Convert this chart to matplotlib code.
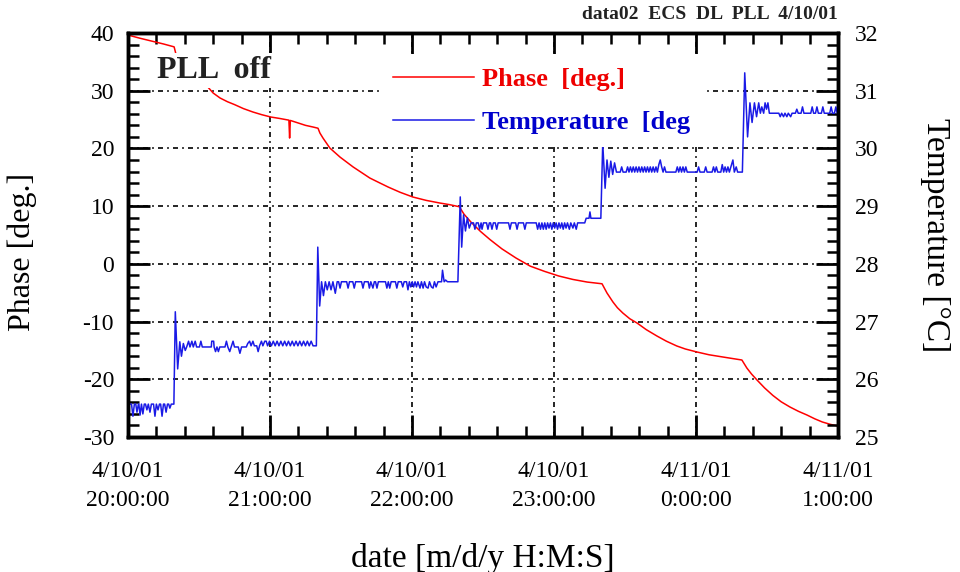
import matplotlib
matplotlib.use("Agg")
import matplotlib.pyplot as plt
from matplotlib.ticker import FixedLocator, MultipleLocator

plt.rcParams['font.family'] = ['Liberation Serif', 'DejaVu Serif']
plt.rcParams['axes.unicode_minus'] = False

# time axis in minutes after 4/10/01 20:00:00
hour_ticks = [0, 60, 120, 180, 240, 300]
hour_labels = ["4/10/01\n20:00:00", "4/10/01\n21:00:00", "4/10/01\n22:00:00",
               "4/10/01\n23:00:00", "4/11/01\n0:00:00", "4/11/01\n1:00:00"]

# phase [deg.] (left axis)
phase_t = [0, 5, 10, 15, 19.5, 20.3, 21.5, 25, 29, 33.4, 36, 38.9, 42, 45,
           48.8, 52.8, 56.5, 60.4, 64, 68.0, 68.3, 68.6, 72, 75, 78.2, 80.3,
           81.1, 82.4, 85.3, 89.6, 95.1, 102.2, 106, 110, 115, 120.4, 126,
           131.8, 136, 140, 142, 145, 149, 153, 158, 164, 170, 176, 182, 188,
           194, 200.3, 202.4, 204.9, 206.8, 209.1, 212, 215.1, 219, 223.5,
           227.5, 231.9, 235.5, 240.4, 245.5, 251.4, 259.4, 261.5, 263.5,
           265.8, 269, 272.5, 276, 279.7, 283.3, 286.9, 290.2, 293.4, 296.7,
           300]
phase_v = [39.65, 39.1, 38.6, 38.1, 37.6, 36.3, 35.0, 33.6, 32.2, 30.8, 29.6,
           28.74, 28.1, 27.6, 26.9, 26.31, 25.85, 25.44, 25.2, 24.9, 21.8,
           24.85, 24.4, 24.0, 23.71, 23.5, 22.67, 21.8, 20.07, 18.5, 16.8,
           14.87, 14.1, 13.3, 12.4, 11.58, 11.0, 10.54, 10.25, 9.9, 8.6, 7.2,
           5.6, 4.2, 2.6, 1.0, -0.4, -1.3, -2.1, -2.7, -3.15, -3.45, -5.05,
           -6.6, -7.6, -8.52, -9.5, -10.25, -11.4, -12.5, -13.4, -14.23,
           -14.75, -15.27, -15.75, -16.14, -16.66, -18.05, -19.1, -20.13,
           -21.5, -22.8, -23.9, -24.8, -25.55, -26.19, -26.85, -27.4, -27.8,
           -28.1]

# temperature [deg C] (right axis)
temp_t = [0.0, 1.5, 2.1, 2.7, 3.3, 3.8, 4.4, 4.6, 5.1, 5.7, 6.3, 6.9, 7.4, 8.0,
          8.6, 9.3, 9.9, 10.8, 11.4, 12.0, 12.7, 13.3, 13.8, 14.4, 15.0, 15.5,
          16.1, 16.7, 17.2, 17.7, 18.3, 19.4,
          20.0, 21.0, 21.9, 22.6, 23.4, 24.2, 24.8,
          25.6, 26.2, 27.0, 27.6, 28.4, 29.0, 30.2, 30.8, 31.4, 33.0, 35.2,
          35.4, 36.2, 36.4, 37.0, 37.6, 38.2, 38.8, 41.0, 41.6, 42.2, 43.0,
          43.6, 44.4, 45.0, 46.6, 47.3, 48.0, 50.0, 50.6, 51.4, 52.0, 52.8,
          53.4, 54.4, 55.0, 55.6, 56.4, 57.0, 57.8, 58.4, 59.0, 59.8, 60.6,
          61.4, 62.2, 63.0, 63.8, 64.6, 65.4, 66.2, 67.0, 67.8, 68.6, 69.4,
          70.2, 71.0, 71.8, 72.6, 73.4, 74.2, 75.0, 75.8, 76.6, 77.4, 78.2,
          79.6,
          80.2, 81.0, 81.8, 82.6, 83.4, 84.2, 85.0, 85.8, 86.6, 87.6, 88.4,
          89.0, 89.6, 90.2, 92.4, 93.0, 93.6, 95.0, 95.6, 96.2, 98.7, 99.3,
          99.9, 101.5, 102.0, 102.6, 103.5, 104.1, 104.6, 105.2, 105.8, 108.8,
          109.4, 110.0, 110.6, 111.2, 113.0, 113.6, 114.2, 115.5, 116.1, 116.7,
          117.7, 118.3, 118.9, 119.5, 120.1, 120.7, 121.3, 121.9, 122.5, 123.4,
          124.0, 124.7, 125.3, 126.0, 126.8, 127.4, 128.2, 128.9, 129.5, 130.2,
          131.0, 132.5, 132.9, 133.6, 134.2, 135.0, 139.4,
          140.4, 141.0, 141.8, 142.6, 143.4, 144.2, 145.0,
          146.0, 146.6, 147.2, 148.0, 148.6, 149.2, 149.6, 150.2, 151.5, 152.1,
          152.7, 153.2, 153.8, 154.4, 155.2, 155.8, 156.4, 160.8, 161.4, 162.0,
          163.8, 164.4, 165.0, 167.1, 167.7, 168.3, 172.5, 173.1, 173.7, 174.3,
          174.9, 175.5, 176.1, 176.7, 177.3, 177.9, 178.5, 179.1, 179.7, 180.3,
          180.9, 181.5, 182.1, 182.7, 183.3, 183.9, 184.5, 185.1, 185.7, 186.5,
          187.1, 188.0, 188.6, 189.4, 190.0, 193.0, 193.6, 194.8, 195.2, 195.6,
          199.8,
          200.6, 201.6, 202.4, 203.2, 204.0, 204.8, 205.6, 206.4,
          208.0, 208.6, 209.2, 210.5, 211.1, 211.7, 212.3, 212.9, 213.5, 214.1,
          214.7, 215.3, 215.9, 216.5, 217.1, 217.7, 218.3, 218.9, 219.5, 220.1,
          220.7, 221.3, 221.9, 222.5, 223.1, 223.7, 224.3, 224.9, 225.5, 226.1,
          226.7, 227.3, 231.5, 232.1, 232.7, 233.3, 233.9, 234.5, 235.1, 235.7,
          236.3, 240.5, 241.1, 241.7, 243.5, 244.1, 244.7, 246.8, 247.4, 248.0,
          248.6, 249.2, 250.5, 251.1, 251.7, 252.3, 252.9, 253.5, 254.1, 255.0,
          255.6, 256.2, 257.0, 257.6, 259.6,
          260.6, 261.8, 262.8, 263.7, 264.7, 265.6, 266.5, 267.2, 267.8, 268.6,
          269.2, 269.8, 270.4, 271.0, 275.0, 275.6, 276.2, 277.0, 277.6, 278.4,
          279.0, 280.0, 280.6, 282.0, 282.6, 283.2, 284.4, 285.0, 285.6, 288.5,
          289.1, 289.7, 290.5, 291.1, 291.7, 293.0, 293.6, 294.2, 296.5, 297.1,
          297.7, 298.5, 299.1, 299.7, 300.0]
temp_v = [25.57, 25.57, 25.36, 25.57, 25.57, 25.43, 25.57, 25.57, 25.38, 25.57,
          25.40, 25.57, 25.57, 25.47, 25.57, 25.43, 25.57, 25.57, 25.36, 25.57,
          25.47, 25.57, 25.57, 25.36, 25.57, 25.57, 25.43, 25.57, 25.57, 25.50,
          25.57, 25.57,
          27.17, 26.18, 26.65, 26.40, 26.62, 26.50, 26.56,
          26.66, 26.56, 26.66, 26.56, 26.66, 26.56, 26.56, 26.66, 26.56, 26.56,
          26.56, 26.66, 26.66, 26.56, 26.48, 26.56, 26.48, 26.56, 26.56, 26.66,
          26.56, 26.48, 26.56, 26.66, 26.56, 26.56, 26.45, 26.56, 26.56, 26.62,
          26.66, 26.58, 26.66, 26.58, 26.58, 26.48, 26.58, 26.66, 26.58, 26.66,
          26.66, 26.58, 26.66, 26.58, 26.66, 26.58, 26.66, 26.58, 26.66, 26.58,
          26.66, 26.58, 26.66, 26.58, 26.66, 26.58, 26.66, 26.58, 26.66, 26.58,
          26.66, 26.58, 26.66, 26.58, 26.66, 26.58, 26.58,
          28.29, 27.27, 27.69, 27.45, 27.69, 27.55, 27.69, 27.55, 27.69, 27.49,
          27.69,
          27.69, 27.58, 27.69, 27.69, 27.58, 27.69, 27.69, 27.58, 27.69, 27.69,
          27.58, 27.69, 27.69, 27.58, 27.69, 27.58, 27.69, 27.69, 27.58, 27.69,
          27.69, 27.58, 27.69, 27.58, 27.69, 27.69, 27.58, 27.69, 27.69, 27.60,
          27.69, 27.69, 27.55, 27.69, 27.60, 27.69, 27.60, 27.69, 27.60, 27.69,
          27.58, 27.69, 27.58, 27.69, 27.60, 27.58, 27.69, 27.60, 27.58, 27.69,
          27.60, 27.69, 27.69, 27.89, 27.69, 27.72, 27.69, 27.69,
          29.16, 28.29, 28.85, 28.57, 28.80, 28.62, 28.71,
          28.71, 28.60, 28.71, 28.71, 28.60, 28.71, 28.60, 28.71, 28.71, 28.60,
          28.71, 28.71, 28.60, 28.71, 28.71, 28.60, 28.71, 28.71, 28.60, 28.71,
          28.71, 28.60, 28.71, 28.71, 28.60, 28.71, 28.71, 28.60, 28.71, 28.60,
          28.71, 28.60, 28.71, 28.60, 28.71, 28.62, 28.71, 28.60, 28.71, 28.62,
          28.71, 28.60, 28.71, 28.62, 28.71, 28.60, 28.71, 28.62, 28.71, 28.60,
          28.71, 28.62, 28.71, 28.60, 28.71, 28.71, 28.79, 28.79, 28.90, 28.79,
          28.79,
          30.09, 29.31, 29.80, 29.50, 29.78, 29.55, 29.75, 29.59,
          29.59, 29.68, 29.59, 29.59, 29.68, 29.59, 29.68, 29.59, 29.68, 29.59,
          29.68, 29.59, 29.68, 29.59, 29.68, 29.59, 29.68, 29.59, 29.68, 29.59,
          29.68, 29.59, 29.68, 29.59, 29.68, 29.59, 29.72, 29.80, 29.68, 29.59,
          29.68, 29.59, 29.59, 29.68, 29.59, 29.68, 29.59, 29.68, 29.59, 29.68,
          29.59, 29.59, 29.68, 29.59, 29.59, 29.68, 29.59, 29.59, 29.68, 29.59,
          29.68, 29.59, 29.59, 29.72, 29.59, 29.68, 29.59, 29.68, 29.59, 29.72,
          29.80, 29.59, 29.68, 29.59, 29.59,
          31.31, 30.20, 30.79, 30.45, 30.79, 30.55, 30.79, 30.61, 30.72, 30.61,
          30.79, 30.68, 30.79, 30.61, 30.61, 30.55, 30.61, 30.55, 30.61, 30.55,
          30.61, 30.55, 30.61, 30.61, 30.68, 30.61, 30.61, 30.72, 30.61, 30.61,
          30.72, 30.61, 30.61, 30.72, 30.61, 30.61, 30.72, 30.61, 30.61, 30.72,
          30.61, 30.61, 30.72, 30.61, 30.61]

red = '#ff0000'
blue = '#1a1ae6'

fig = plt.figure(figsize=(9.6, 5.72), dpi=100)
ax = fig.add_axes([0.1333, 0.236, 0.7396, 0.7063])
ax2 = ax.twinx()

l1, = ax.plot(phase_t, phase_v, color=red, lw=1.1)
l2, = ax2.plot(temp_t, temp_v, color=blue, lw=1.1)

ax.set_xlim(0, 300)
ax.set_ylim(-30, 40)
ax2.set_ylim(25, 32)

ax.xaxis.set_major_locator(FixedLocator(hour_ticks))
ax.set_xticklabels(hour_labels, linespacing=1.45)
ax.xaxis.set_minor_locator(MultipleLocator(12))
ax.yaxis.set_major_locator(MultipleLocator(10))
ax.yaxis.set_minor_locator(MultipleLocator(2))
ax2.yaxis.set_major_locator(MultipleLocator(1))
ax2.yaxis.set_minor_locator(MultipleLocator(0.2))

for a in (ax, ax2):
    for s in a.spines.values():
        s.set_linewidth(2.5)
ax.tick_params(which='both', direction='in', top=True, right=False, labelsize=17)
ax.tick_params(which='major', length=16, width=2)
ax.tick_params(which='minor', length=8, width=1.8)
ax.tick_params(axis='x', pad=17.5)
ax.tick_params(axis='y', pad=10)
ax2.tick_params(which='both', direction='in', labelsize=17, pad=12)
ax2.tick_params(which='major', length=16, width=2)
ax2.tick_params(which='minor', length=8, width=1.8)

ax.grid(which='major', color='k', linestyle=(0, (3, 2.5, 1, 2.5)), linewidth=1.2)

ax.set_ylabel('Phase [deg.]', fontsize=23)
ax.yaxis.set_label_coords(-0.128, 0.458)
ax2.set_ylabel('Temperature [°C]', fontsize=24, rotation=270, va='center')
ax2.yaxis.set_label_coords(1.137, 0.5)
ax.set_xlabel('date [m/d/y H:M:S]', fontsize=24)
ax.xaxis.set_label_coords(0.5, -0.262)

fig.text(0.873, 0.975, 'data02  ECS  DL  PLL  4/10/01', ha='right', va='center',
         fontsize=14, fontweight='bold', color='#222222')

ax2.text(0.041, 0.908, 'PLL  off', transform=ax2.transAxes, fontsize=23,
         fontweight='bold', va='center', color='#222222',
         bbox=dict(facecolor='white', edgecolor='none', pad=2))

leg = ax2.legend([l1, l2], ['Phase  [deg.]', 'Temperature  [deg'],
                 loc='upper left', bbox_to_anchor=(0.354, 0.947),
                 borderaxespad=0, borderpad=0.5, handlelength=3.1,
                 handletextpad=0.3, labelspacing=0.74, fancybox=False,
                 frameon=True, facecolor='white', edgecolor='none',
                 framealpha=1, labelcolor=['#ee0000', '#0000cc'],
                 prop={'family': 'Liberation Serif', 'weight': 'bold', 'size': 19})

fig.savefig('out.png', dpi=100)
